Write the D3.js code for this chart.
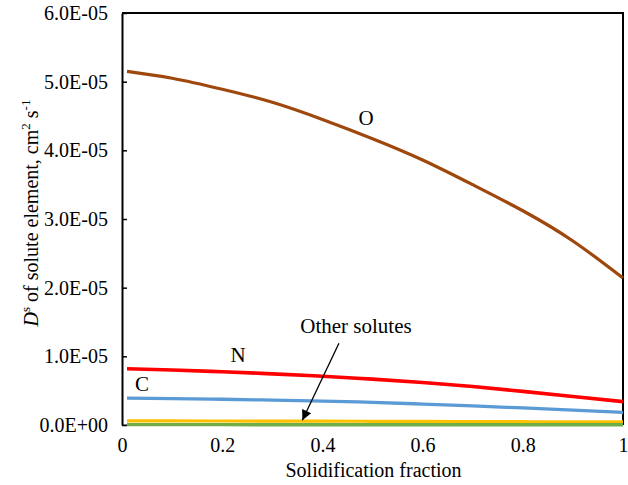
<!DOCTYPE html>
<html>
<head>
<meta charset="utf-8">
<script src="https://cdn.jsdelivr.net/npm/d3@7"></script>
<style>
  html, body { margin: 0; padding: 0; background: #fff; }
  svg text { font-family: "Liberation Serif", "Times New Roman", "DejaVu Serif", serif !important; }
</style>
</head>
<body>
<svg id="chart" width="628" height="485"></svg>
<script>
// Solidification fraction sampled along each curve
const fraction = [0.01, 0.1, 0.2, 0.3, 0.4, 0.5, 0.6, 0.7, 0.8, 0.9, 1.0];

// Solid-phase diffusivity of each solute, cm^2 s^-1
const dO = [5.15e-5, 5.05e-5, 4.89e-5, 4.70e-5, 4.45e-5, 4.17e-5, 3.86e-5, 3.50e-5, 3.12e-5, 2.68e-5, 2.14e-5];
const dN = [8.2e-6, 8.0e-6, 7.75e-6, 7.45e-6, 7.1e-6, 6.68e-6, 6.2e-6, 5.6e-6, 4.9e-6, 4.15e-6, 3.4e-6];
const dC = [3.9e-6, 3.85e-6, 3.75e-6, 3.62e-6, 3.47e-6, 3.3e-6, 3.05e-6, 2.78e-6, 2.48e-6, 2.18e-6, 1.85e-6];
const dOther1 = [6.0e-7, 5.9e-7, 5.8e-7, 5.7e-7, 5.6e-7, 5.4e-7, 5.2e-7, 5.0e-7, 4.8e-7, 4.6e-7, 4.5e-7];
const dOther2 = [5.0e-8, 5.0e-8, 4.8e-8, 4.6e-8, 4.4e-8, 4.2e-8, 4.0e-8, 3.8e-8, 3.6e-8, 3.3e-8, 3.0e-8];

const xTicks = [0, 0.2, 0.4, 0.6, 0.8, 1];
const yTicks = [0, 1e-5, 2e-5, 3e-5, 4e-5, 5e-5, 6e-5];

const series = [
  { name: "O", values: dO, color: "#9E480E", width: 3.2 },
  { name: "N", values: dN, color: "#FF0000", width: 3.6 },
  { name: "C", values: dC, color: "#5B9BD5", width: 3.3 },
  { name: "other-1", values: dOther1, color: "#FFC000", width: 3.2 },
  { name: "other-2", values: dOther2, color: "#70AD47", width: 3.4 }
];

const svg = d3.select("#chart");
const plotL = 122, plotR = 623, plotT = 13, plotB = 425;

const x = d3.scaleLinear().domain([0, 1]).range([plotL, plotR]);
const y = d3.scaleLinear().domain([0, 6e-5]).range([plotB, plotT]);

// Excel-style scientific label: 6.0E-05, 0.0E+00
const sci = d => {
  if (d === 0) return "0.0E+00";
  const [m, e] = d.toExponential(1).split("e");
  const n = +e;
  return m + "E" + (n < 0 ? "-" : "+") + String(Math.abs(n)).padStart(2, "0");
};

// bottom axis line (grey)
svg.append("line")
  .attr("x1", plotL).attr("x2", plotR)
  .attr("y1", plotB).attr("y2", plotB)
  .attr("stroke", "#8c8c8c").attr("stroke-width", 1.5);

// y axis with inward ticks
const yAxis = d3.axisLeft(y).tickValues(yTicks).tickFormat(sci).tickSizeInner(-5).tickSizeOuter(0).tickPadding(14);
const gy = svg.append("g").attr("transform", `translate(${plotL},0)`).call(yAxis);
gy.attr("font-family", null);
gy.select(".domain").attr("stroke", "#000").attr("stroke-width", 2);
gy.selectAll(".tick line").attr("stroke", "#000").attr("stroke-width", 1.5);
gy.selectAll(".tick text").attr("font-size", 20).attr("fill", "#000");

// x axis labels, no tick marks
const xAxis = d3.axisBottom(x).tickValues(xTicks).tickFormat(d3.format("")).tickSize(0).tickPadding(13);
const gx = svg.append("g").attr("transform", `translate(0,${plotB})`).call(xAxis);
gx.attr("font-family", null);
gx.select(".domain").remove();
gx.selectAll(".tick text").attr("font-size", 20).attr("fill", "#000");

// top and right frame
svg.append("path")
  .attr("d", `M${plotL},${plotT}H${plotR}V${plotB}`)
  .attr("fill", "none").attr("stroke", "#000").attr("stroke-width", 2);

// curves
const line = d3.line().curve(d3.curveNatural);
series.forEach(s => {
  svg.append("path")
    .datum(fraction.map((f, i) => [x(f), y(s.values[i])]))
    .attr("d", line)
    .attr("fill", "none")
    .attr("stroke", s.color)
    .attr("stroke-width", s.width)
    .attr("stroke-linejoin", "round");
});

// axis titles
svg.append("text")
  .attr("x", (plotL + plotR) / 2 + 1).attr("y", 477)
  .attr("text-anchor", "middle").attr("font-size", 20).attr("fill", "#000")
  .text("Solidification fraction");

const yt = svg.append("text")
  .attr("transform", "translate(38,213) rotate(-90)")
  .attr("text-anchor", "middle").attr("font-size", 20).attr("fill", "#000");
yt.append("tspan").attr("font-style", "italic").text("D");
yt.append("tspan").attr("font-size", 13).attr("dy", -8).text("s");
yt.append("tspan").attr("dy", 8).text(" of solute element, cm");
yt.append("tspan").attr("font-size", 13).attr("dy", -8).text("2");
yt.append("tspan").attr("dy", 8).text(" s");
yt.append("tspan").attr("font-size", 13).attr("dy", -8).text("-1");

// series labels
const labels = [
  { text: "O", fx: 0.487, v: 4.37e-5 },
  { text: "N", fx: 0.2315, v: 9.2e-6 },
  { text: "C", fx: 0.04, v: 4.95e-6 },
  { text: "Other solutes", fx: 0.467, v: 1.34e-5 }
];
labels.forEach(l => {
  svg.append("text")
    .attr("x", x(l.fx)).attr("y", y(l.v))
    .attr("text-anchor", "middle").attr("font-size", 21).attr("fill", "#000")
    .text(l.text);
});

// arrow pointing at the other solutes
svg.append("defs").append("marker")
  .attr("id", "head").attr("viewBox", "0 0 10 10")
  .attr("refX", 10).attr("refY", 5)
  .attr("markerWidth", 13).attr("markerHeight", 10)
  .attr("markerUnits", "userSpaceOnUse")
  .attr("orient", "auto")
  .append("path").attr("d", "M0,0L10,5L0,10Z").attr("fill", "#000");

svg.append("line")
  .attr("x1", x(0.433)).attr("y1", y(1.19e-5))
  .attr("x2", x(0.36)).attr("y2", y(7e-7))
  .attr("stroke", "#000").attr("stroke-width", 1.3)
  .attr("marker-end", "url(#head)");
</script>
</body>
</html>
